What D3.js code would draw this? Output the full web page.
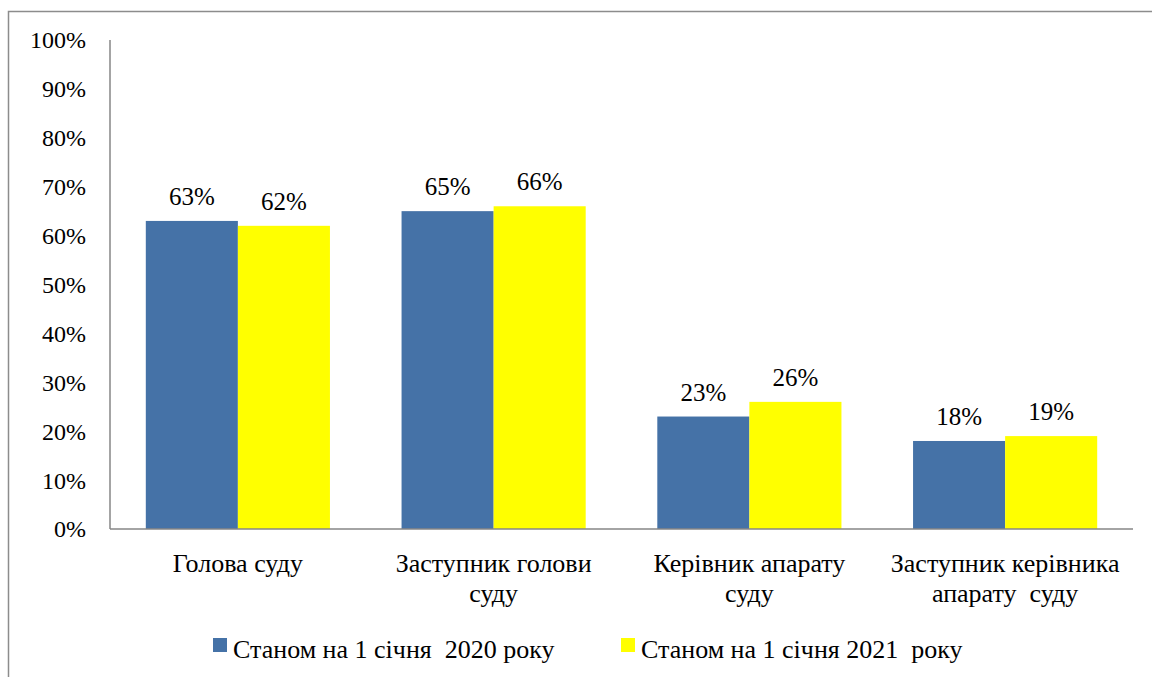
<!DOCTYPE html>
<html>
<head>
<meta charset="utf-8">
<script src="https://cdn.jsdelivr.net/npm/d3@7"></script>
<style>
  body { margin: 0; background: #fff; }
  svg { display: block; }
</style>
</head>
<body>
<svg width="1152" height="677"></svg>
<script>
// categories (each label split into lines)
const categories = [
  ['Голова суду'],
  ['Заступник голови', 'суду'],
  ['Керівник апарату', 'суду'],
  ['Заступник керівника', 'апарату  суду']
];
const seriesNames = ['Станом на 1 січня  2020 року', 'Станом на 1 січня 2021  року'];
const values2020 = [0.63, 0.65, 0.23, 0.18];
const values2021 = [0.62, 0.66, 0.26, 0.19];
const yTicks = [0, 0.1, 0.2, 0.3, 0.4, 0.5, 0.6, 0.7, 0.8, 0.9, 1];
const colors = ['#4572A7', '#FFFF00'];
const FONT = 'Liberation Serif';

const svg = d3.select('svg');

// outer frame (only left and top visible)
svg.append('path')
  .attr('d', 'M8.5,677 L8.5,11.5 L1152,11.5')
  .attr('fill', 'none')
  .attr('stroke', '#8c8c8c')
  .attr('stroke-width', 1.5);

const plot = {left: 110, right: 1133, top: 40, bottom: 529};

const x0 = d3.scaleBand()
  .domain(d3.range(categories.length))
  .range([plot.left, plot.right])
  .paddingInner(0.28)
  .paddingOuter(0.14);

const x1 = d3.scaleBand()
  .domain([0, 1])
  .range([0, x0.bandwidth()]);

const y = d3.scaleLinear().domain([0, 1]).range([plot.bottom, plot.top]);

// y axis labels
svg.append('g').selectAll('text')
  .data(yTicks)
  .enter().append('text')
    .attr('x', 86)
    .attr('y', d => y(d))
    .attr('dy', '0.35em')
    .attr('text-anchor', 'end')
    .attr('font-family', FONT)
    .attr('font-size', 24)
    .text(d => d3.format('.0%')(d));

// bars
const series = [values2020, values2021];
const groups = svg.append('g').selectAll('g')
  .data(categories.map((c, i) => i))
  .enter().append('g')
    .attr('transform', i => `translate(${x0(i)},0)`);

groups.selectAll('rect')
  .data(i => series.map((s, k) => ({k, v: s[i]})))
  .enter().append('rect')
    .attr('x', d => x1(d.k))
    .attr('y', d => y(d.v))
    .attr('width', x1.bandwidth())
    .attr('height', d => y(0) - y(d.v))
    .attr('fill', d => colors[d.k]);

groups.selectAll('text.val')
  .data(i => series.map((s, k) => ({k, v: s[i]})))
  .enter().append('text')
    .attr('class', 'val')
    .attr('x', d => x1(d.k) + x1.bandwidth() / 2)
    .attr('y', d => y(d.v) - 16)
    .attr('text-anchor', 'middle')
    .attr('font-family', FONT)
    .attr('font-size', 25)
    .text(d => d3.format('.0%')(d.v));

// axes lines
svg.append('line')
  .attr('x1', plot.left).attr('x2', plot.left)
  .attr('y1', plot.top).attr('y2', plot.bottom)
  .attr('stroke', '#868686').attr('stroke-width', 1.5);
svg.append('line')
  .attr('x1', plot.left).attr('x2', plot.right)
  .attr('y1', plot.bottom).attr('y2', plot.bottom)
  .attr('stroke', '#868686').attr('stroke-width', 1.5);

// category labels
const catG = svg.append('g').selectAll('text')
  .data(categories)
  .enter().append('text')
    .attr('text-anchor', 'middle')
    .attr('font-family', FONT)
    .attr('font-size', 26)
    .attr('xml:space', 'preserve')
    .attr('y', 572);
catG.each(function (lines, i) {
  d3.select(this).selectAll('tspan')
    .data(lines)
    .enter().append('tspan')
      .attr('x', x0(i) + x0.bandwidth() / 2)
      .attr('dy', (d, j) => j === 0 ? 0 : 30)
      .text(d => d);
});

// legend
const legendX = [213, 621];
const legend = svg.append('g').selectAll('g')
  .data(seriesNames)
  .enter().append('g')
    .attr('transform', (d, i) => `translate(${legendX[i]},638)`);
legend.append('rect')
  .attr('width', 14).attr('height', 14)
  .attr('fill', (d, i) => colors[i]);
legend.append('text')
  .attr('x', 20)
  .attr('y', 20)
  .attr('font-family', FONT)
  .attr('font-size', 26)
  .attr('xml:space', 'preserve')
  .text(d => d);
</script>
</body>
</html>
